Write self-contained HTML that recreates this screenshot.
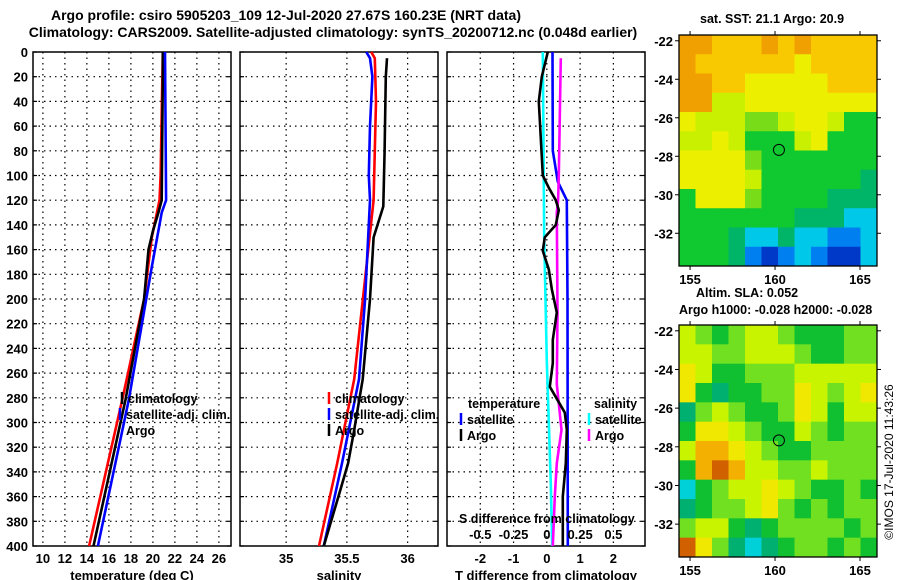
<!DOCTYPE html>
<html><head><meta charset="utf-8">
<style>
html,body{margin:0;padding:0;background:#fff;}
svg{display:block;font-family:"Liberation Sans",sans-serif;font-weight:bold;}
</style></head>
<body>
<svg id="fig" width="900" height="580" viewBox="0 0 900 580">
<text x="286" y="20" font-size="14" text-anchor="middle">Argo profile: csiro 5905203_109 12-Jul-2020 27.67S 160.23E (NRT data)</text>
<text x="333" y="37" font-size="14" text-anchor="middle">Climatology: CARS2009. Satellite-adjusted climatology: synTS_20200712.nc (0.048d earlier)</text>
<g id="panels"></g>
<g id="maps"></g>
</svg>
<script>
// ---- profile data ----
const depthTicks=[0,20,40,60,80,100,120,140,160,180,200,220,240,260,280,300,320,340,360,380,400];
const tempTicks=[10,12,14,16,18,20,22,24,26];
const salTicks=[35,35.5,36];
const tdiffTicks=[-2,-1,0,1,2];
const sdiffTicks=[-0.5,-0.25,0,0.25,0.5];
const sdiffTickLabels=["-0.5","-0.25","0","0.25","0.5"];

const tempClimDepth=[0,100,120,150,200,282,400];
const tempClim=[20.9,20.7,20.6,19.9,19.2,17.2,14.2];
const tempSatDepth=[0,120,130,174,282,400];
const tempSat=[21.1,21.2,20.8,19.9,17.8,15.0];
const tempArgoDepth=[0,20,120,130,145,160,200,282,400];
const tempArgo=[20.9,20.9,20.8,20.5,20.0,19.6,19.2,17.5,14.6];

const salClimDepth=[0,5,40,120,265,333,400];
const salClim=[35.70,35.73,35.74,35.72,35.56,35.42,35.27];
const salSatDepth=[0,5,20,60,100,120,200,265,333,400];
const salSat=[35.66,35.69,35.71,35.69,35.68,35.69,35.65,35.60,35.46,35.31];
const salArgoDepth=[5,20,80,125,150,200,265,306,333,360,400];
const salArgo=[35.83,35.82,35.81,35.80,35.72,35.69,35.63,35.56,35.51,35.43,35.31];

const tDiffSatDepth=[0,80,105,120,200,400];
const tDiffSat=[0.17,0.18,0.33,0.6,0.62,0.63];
const tDiffArgoDepth=[0,20,40,100,110,120,128,140,150,161,176,192,211,233,252,271,292,306,333,360,400];
const tDiffArgo=[0.03,-0.15,-0.24,-0.12,0.06,0.27,0.36,0.27,-0.06,-0.12,0.06,0.15,0.3,0.18,0.18,0.09,0.54,0.6,0.57,0.48,0.48];
const sDiffSatDepth=[0,150,250,350,400];
const sDiffSat=[-0.03,-0.02,0,0.03,0.04];
const sDiffArgoDepth=[5,100,120,130,211,269,306,333,360,400];
const sDiffArgo=[0.105,0.09,0.085,0.075,0.08,0.075,0.11,0.075,0.06,0.045];

// ---- map data (colour class 0=dark blue .. 9=orange) ----
const sstGrid=[
[9,9,8,8,8,9,8,9,8,8,8,8],
[9,8,8,8,8,8,8,7,8,8,8,8],
[9,9,8,8,7,7,7,7,7,8,8,8],
[9,9,6,6,7,7,7,7,7,7,7,7],
[7,6,6,6,5,5,6,7,7,6,4,4],
[6,6,7,6,4,4,4,6,7,4,4,4],
[7,7,7,7,5,4,4,4,4,4,4,4],
[7,7,7,7,6,4,4,4,4,4,4,3],
[4,7,7,7,5,4,4,4,4,3,3,3],
[4,4,4,4,4,4,4,3,3,3,2,2],
[4,4,4,3,2,2,3,2,2,1,1,2],
[4,4,4,3,1,0,1,2,1,0,0,2]];
const slaGrid=[
[6,5,4,5,6,6,5,4,4,4,5,5],
[6,6,5,5,6,6,6,5,4,4,5,5],
[7,6,4,4,5,5,5,6,6,6,6,6],
[7,4,3,4,4,5,5,7,6,5,6,7],
[3,5,6,5,4,4,5,7,6,4,6,6],
[4,7,7,6,5,4,4,6,5,4,5,5],
[6,8,8,7,6,5,4,4,5,5,5,5],
[4,8,9,8,6,6,5,5,6,5,5,5],
[2,4,5,6,6,7,6,5,4,4,5,4],
[3,4,5,5,6,7,5,4,5,4,5,5],
[5,6,6,4,3,4,5,5,5,5,4,5],
[9,7,5,3,2,3,4,5,5,4,5,4]];
const lonTicks=[155,160,165];
const latTicks=[-22,-24,-26,-28,-30,-32];
const argoLon=160.23, argoLat=-27.67;

const NS="http://www.w3.org/2000/svg";
function mk(tag,attrs,parent){const e=document.createElementNS(NS,tag);for(const k in attrs)e.setAttribute(k,attrs[k]);parent.appendChild(e);return e;}
const panels=document.getElementById('panels');
const top0=52,bot0=546;
const yD=d=>top0+(bot0-top0)*d/400;

function panel(x0,x1,vmin,vmax,ticks,labels,gridVals,name,xlabel){
  const g=mk('g',{},panels);
  
  
  const sx=v=>x0+(x1-x0)*(v-vmin)/(vmax-vmin);
  depthTicks.forEach(d=>{if(d>0&&d<400){const l=mk('line',{x1:x0,x2:x1,y1:yD(d),y2:yD(d),stroke:'#000','stroke-width':1.2,'stroke-dasharray':'1.5 4'},g);
    }
    mk('line',{x1:x0,x2:x0+4,y1:yD(d),y2:yD(d),stroke:'#000','stroke-width':1.2},g);
    mk('line',{x1:x1-4,x2:x1,y1:yD(d),y2:yD(d),stroke:'#000','stroke-width':1.2},g);});
  gridVals.forEach(v=>{const l=mk('line',{x1:sx(v),x2:sx(v),y1:top0,y2:bot0,stroke:'#000','stroke-width':1.2,'stroke-dasharray':'1.5 4'},g);
    });
  ticks.forEach((v,i)=>{if(labels){const t=mk('text',{x:sx(v),y:bot0+17,'font-size':13,'text-anchor':'middle'},g);t.textContent=labels[i];
    }});
  const r=mk('rect',{x:x0,y:top0,width:x1-x0,height:bot0-top0,fill:'none',stroke:'#000','stroke-width':1.5},g);
  
  if(xlabel){const t=mk('text',{x:(x0+x1)/2,y:bot0+34,'font-size':13,'text-anchor':'middle'},g);t.textContent=xlabel;
    }
  return {g,sx};
}
function series(p,depths,vals,color,name,scale){
  const pts=depths.map((d,i)=>p.sx(vals[i]*(scale||1)).toFixed(1)+','+yD(d).toFixed(1)).join(' ');
  const l=mk('polyline',{points:pts,fill:'none',stroke:color,'stroke-width':2.6,'stroke-linejoin':'miter'},p.g);
  
  
}
function legendItem(g,x,y,color,label,name){
  if(color){mk('line',{x1:x,x2:x,y1:y-11,y2:y+1,stroke:color,'stroke-width':2.5},g);}
  const t=mk('text',{x:x+6,y:y,'font-size':12.5},g);t.textContent=label;
  
  
}

depthTicks.forEach(d=>{const t=mk('text',{x:28,y:yD(d)+5,'font-size':13,'text-anchor':'end'},panels);t.textContent=d;
  });

const p1=panel(33,231,9.1,27.1,tempTicks,tempTicks.map(String),tempTicks,'temperature','temperature (deg C)');
series(p1,tempClimDepth,tempClim,'#ff0000','temp-climatology-line');
series(p1,tempArgoDepth,tempArgo,'#000','temp-argo-line');
series(p1,tempSatDepth,tempSat,'#0000ff','temp-satellite-line');
legendItem(p1.g,120,419,'#0000ff','satellite-adj. clim.','legend-satellite');
legendItem(p1.g,122,403,'#000','climatology','legend-climatology');
legendItem(p1.g,120,435,null,'Argo','legend-argo');

const p2=panel(240,438,34.62,36.25,salTicks,salTicks.map(String),salTicks,'salinity','salinity');
series(p2,salClimDepth,salClim,'#ff0000','sal-climatology-line');
series(p2,salSatDepth,salSat,'#0000ff','sal-satellite-line');
series(p2,salArgoDepth,salArgo,'#000','sal-argo-line');
legendItem(p2.g,329,403,'#ff0000','climatology','legend-climatology');
legendItem(p2.g,329,419,'#0000ff','satellite-adj. clim.','legend-satellite');
legendItem(p2.g,329,435,'#000','Argo','legend-argo');

const p3=panel(447,645,-3.0,2.95,tdiffTicks,tdiffTicks.map(String),tdiffTicks,'difference','T difference from climatology');
series(p3,sDiffSatDepth,sDiffSat,'#00ffff','sdiff-satellite-line',4);
series(p3,tDiffSatDepth,tDiffSat,'#0000ff','tdiff-satellite-line');
series(p3,sDiffArgoDepth,sDiffArgo,'#ff00ff','sdiff-argo-line',4);
series(p3,tDiffArgoDepth,tDiffArgo,'#000','tdiff-argo-line');
{const t=mk('text',{x:468,y:408,'font-size':12.5},p3.g);t.textContent='temperature';}
{const t=mk('text',{x:594,y:408,'font-size':12.5},p3.g);t.textContent='salinity';}
legendItem(p3.g,461,424,'#0000ff','satellite','legend-t-satellite');
legendItem(p3.g,461,440,'#000','Argo','legend-t-argo');
legendItem(p3.g,589,424,'#00ffff','satellite','legend-s-satellite');
legendItem(p3.g,589,440,'#ff00ff','Argo','legend-s-argo');
{const t=mk('text',{x:459,y:523,'font-size':12.5},p3.g);t.textContent='S difference from climatology';}
sdiffTicks.forEach((v,i)=>{const t=mk('text',{x:p3.sx(v*4),y:539,'font-size':13,'text-anchor':'middle'},p3.g);t.textContent=sdiffTickLabels[i];
  });

// ---- maps ----
const cmap=['#0038c8','#0080f0','#00c8e8','#00b468','#10c830','#78dc18','#c8f000','#ecf000','#f8c800','#f0a000'];
const cmapSla=['#0038c8','#0080f0','#00d0d8','#00b070','#10c030','#70e020','#c8f400','#f0e800','#f4b000','#d06000'];
const maps=document.getElementById('maps');
function drawMap(grid,colors,x0,x1,y0,y1,latTop,latBot,name){
  const g=mk('g',{},maps);
  
  
  const lonMin=154.35,lonMax=166.0;
  const sx=v=>x0+(x1-x0)*(v-lonMin)/(lonMax-lonMin);
  const sy=v=>y0+(y1-y0)*(latTop-v)/(latTop-latBot);
  const nr=grid.length,nc=grid[0].length,cw=(x1-x0)/nc,ch=(y1-y0)/nr;
  grid.forEach((row,r)=>row.forEach((v,c)=>{
    const cell=mk('rect',{x:x0+c*cw,y:y0+r*ch,width:cw+0.5,height:ch+0.5,fill:colors[v]},g);
    
    
  }));
  mk('rect',{x:x0,y:y0,width:x1-x0,height:y1-y0,fill:'none',stroke:'#000','stroke-width':1.3},g);
  latTicks.forEach(v=>{const y=sy(v);
    mk('line',{x1:x0-4,x2:x0,y1:y,y2:y,stroke:'#000'},g);mk('line',{x1:x1,x2:x1+4,y1:y,y2:y,stroke:'#000'},g);
    const t=mk('text',{x:x0-6,y:y+5,'font-size':13,'text-anchor':'end'},g);t.textContent=v;
    });
  lonTicks.forEach(v=>{const x=sx(v);
    mk('line',{x1:x,x2:x,y1:y0-4,y2:y0,stroke:'#000'},g);mk('line',{x1:x,x2:x,y1:y1,y2:y1+4,stroke:'#000'},g);
    const t=mk('text',{x:x,y:y1+18,'font-size':13,'text-anchor':'middle'},g);t.textContent=v;
    });
  const c=mk('circle',{cx:sx(argoLon),cy:sy(argoLat),r:5.5,fill:'none',stroke:'#000','stroke-width':1},g);
  
  
}
drawMap(sstGrid,cmap,679,877,35,266,-21.7,-33.7,'sst-map');
drawMap(slaGrid,cmapSla,679,877,325,557,-21.7,-33.7,'sla-map');
function txt(x,y,s,name,extra){const t=mk('text',Object.assign({x:x,y:y,'font-size':12.5},extra||{}),maps);t.textContent=s;
  return t;}
txt(700,23,'sat. SST: 21.1 Argo: 20.9','sst-map-title');
txt(696,297,'Altim. SLA: 0.052','sla-value-label');
txt(679,314,'Argo h1000: -0.028 h2000: -0.028','argo-height-label');
txt(893,462,'©IMOS 17-Jul-2020 11:43:26','imos-timestamp',{'text-anchor':'middle',transform:'rotate(-90 893 462)','font-weight':'normal','font-size':12});
</script>
</body></html>
